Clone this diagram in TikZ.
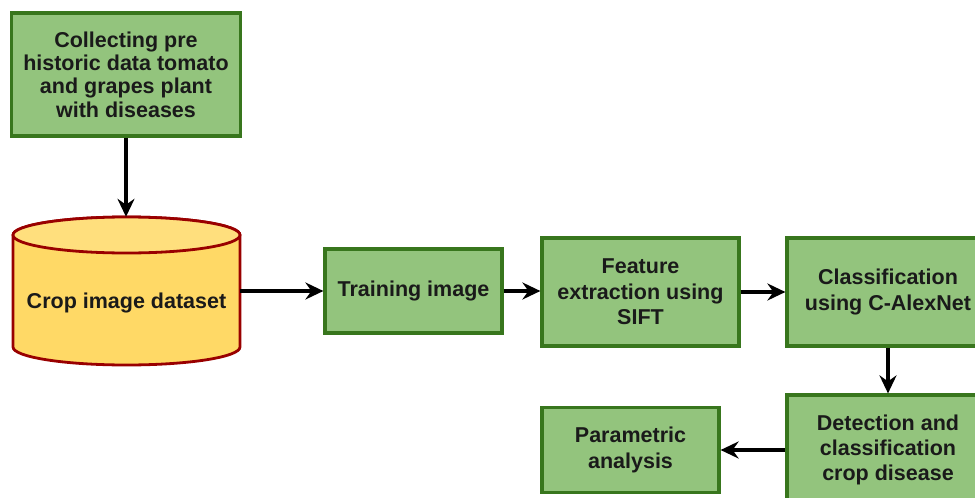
\documentclass[tikz,border=0pt]{standalone}
\usepackage{fontspec}
\setmainfont{Liberation Sans}
\usetikzlibrary{arrows.meta}
\definecolor{boxfill}{HTML}{93C47D}
\definecolor{boxline}{HTML}{38761D}
\definecolor{dbfill}{HTML}{FFD966}
\definecolor{dbline}{HTML}{990000}
\definecolor{txt}{HTML}{1A1A1A}
\tikzset{
  lbl/.style={align=center, font=\fontsize{21.5}{25.3}\selectfont\bfseries, text=txt, inner sep=0pt},
  stepbox/.style={lbl, draw=boxline, fill=boxfill, line width=3.2pt},
  flow/.style={line width=3.4pt, draw=black, -{Stealth[length=18pt,width=17pt,inset=6pt]}}
}
\begin{document}
\begin{tikzpicture}[x=1pt,y=-1pt]
\useasboundingbox (0,0) rectangle (975,498);
\clip (0,0) rectangle (975,498);

\node[stepbox, minimum width=229pt, minimum height=123pt,
      font=\fontsize{21.5}{23.4}\selectfont\bfseries] (collect) at (126,74.5)
  {Collecting pre\\historic data tomato\\and grapes plant\\with diseases};

% cylinder
\path[draw=dbline, fill=dbfill, line width=2.8pt]
  (13,235) -- (13,347) arc[start angle=180, end angle=360, x radius=113.5pt, y radius=18pt]
  -- (240,235) arc[start angle=0, end angle=180, x radius=113.5pt, y radius=18pt] -- cycle;
\path[draw=dbline, fill=dbfill!85!white, line width=2.8pt]
  (126.5,235) ellipse[x radius=113.5pt, y radius=18pt];
\node[minimum width=227pt, minimum height=148pt, inner sep=0pt] (db) at (126,291) {};
\node[lbl] (dbtext) at (126.5,303) {Crop image dataset};

\node[stepbox, minimum width=177pt, minimum height=84pt] (train) at (413.5,291) {Training image};
\node[stepbox, minimum width=197pt, minimum height=108pt] (feat) at (640.5,292) {Feature\\extraction using\\SIFT};
\node[stepbox, minimum width=202pt, minimum height=108pt] (cls) at (888,292) {Classification\\using C-AlexNet};
\node[stepbox, minimum width=202pt, minimum height=110pt] (det) at (888,450) {Detection and\\classification\\crop disease};
\node[stepbox, minimum width=177pt, minimum height=85pt] (par) at (630.5,450) {Parametric\\analysis};

\draw[flow] (collect.south) -- (db.north);
\draw[flow] (db.east) -- (train.west);
\draw[flow] (train.east) -- (train.east -| feat.west);
\draw[flow] (feat.east) -- (cls.west);
\draw[flow] (cls.south) -- (det.north);
\draw[flow] (det.west) -- (par.east);
\end{tikzpicture}
\end{document}
